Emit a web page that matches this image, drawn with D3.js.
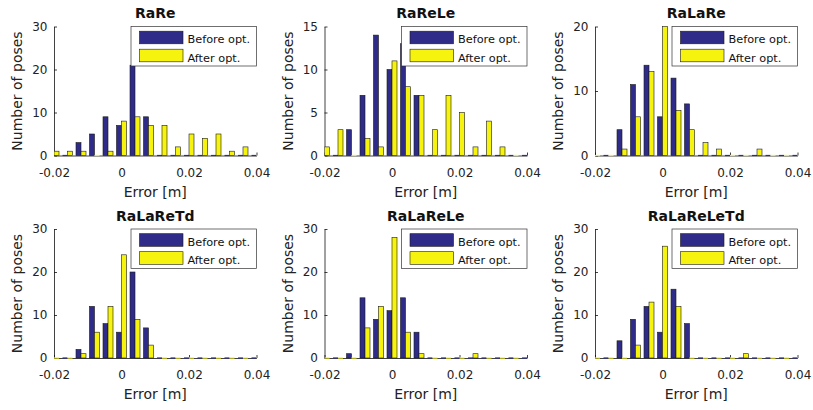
<!DOCTYPE html>
<html>
<head>
<meta charset="utf-8">
<script src="https://cdn.jsdelivr.net/npm/d3@7"></script>
<style>
  html, body { margin: 0; padding: 0; background: #fff; }
  svg { display: block; }
</style>
</head>
<body>
<svg id="chart" width="813" height="410"></svg>
<script>
// Histogram bin centres (m) shared by every panel
const binCenters = [-0.02, -0.016, -0.012, -0.008, -0.004, 0, 0.004, 0.008,
                    0.012, 0.016, 0.02, 0.024, 0.028, 0.032, 0.036, 0.04];

const seriesNames = ["Before opt.", "After opt."];
const xTicks = [-0.02, 0, 0.02, 0.04];
const xTickLabels = ["-0.02", "0", "0.02", "0.04"];

const titles = ["RaRe", "RaReLe", "RaLaRe", "RaLaReTd", "RaLaReLe", "RaLaReLeTd"];

// Pose counts per bin, before and after optimisation
const rareBefore       = [0, 0, 3, 5, 9, 7, 21, 9, 0, 0, 0, 0, 0, 0, 0, 0];
const rareAfter        = [1, 1, 1, 0, 1, 8, 9, 7, 7, 2, 5, 4, 5, 1, 2, 0];
const rareleBefore     = [0, 0, 3, 7, 14, 10, 13, 7, 0, 0, 0, 0, 0, 0, 0, 0];
const rareleAfter      = [1, 3, 0, 2, 1, 11, 8, 7, 3, 7, 5, 1, 4, 1, 0, 0];
const ralareBefore     = [0, 0, 4, 11, 14, 6, 12, 8, 0, 0, 0, 0, 0, 0, 0, 0];
const ralareAfter      = [0, 0, 1, 6, 13, 20, 7, 4, 2, 1, 0, 0, 1, 0, 0, 0];
const ralaretdBefore   = [0, 0, 2, 12, 8, 6, 20, 7, 0, 0, 0, 0, 0, 0, 0, 0];
const ralaretdAfter    = [0, 0, 1, 6, 12, 24, 9, 3, 0, 0, 0, 0, 0, 0, 0, 0];
const ralareleBefore   = [0, 0, 1, 14, 9, 11, 14, 6, 0, 0, 0, 0, 0, 0, 0, 0];
const ralareleAfter    = [0, 0, 0, 7, 12, 28, 6, 1, 0, 0, 0, 1, 0, 0, 0, 0];
const ralareletdBefore = [0, 0, 4, 9, 12, 6, 16, 8, 0, 0, 0, 0, 0, 0, 0, 0];
const ralareletdAfter  = [0, 0, 0, 3, 13, 26, 12, 0, 0, 0, 0, 1, 0, 0, 0, 0];

const beforeSeries = [rareBefore, rareleBefore, ralareBefore, ralaretdBefore, ralareleBefore, ralareletdBefore];
const afterSeries  = [rareAfter, rareleAfter, ralareAfter, ralaretdAfter, ralareleAfter, ralareletdAfter];

const yMax = [30, 15, 20, 30, 30, 30];
const yTicks = [[0, 10, 20, 30], [0, 5, 10, 15], [0, 10, 20], [0, 10, 20, 30], [0, 10, 20, 30], [0, 10, 20, 30]];

// Layout
const colLeft = [54, 324.5, 595];
const rowTop = [26.5, 229];
const plotW = 202.5, plotH = 129;
const colors = ["#2e2c88", "#f6f40f"];
const font = "DejaVu Sans, sans-serif";

const svg = d3.select("#chart");

titles.forEach((title, i) => {
  const col = i % 3, row = Math.floor(i / 3);
  const g = svg.append("g").attr("transform", `translate(${colLeft[col]},${rowTop[row]})`);

  const x = d3.scaleLinear().domain([-0.02, 0.04]).range([0, plotW]);
  const y = d3.scaleLinear().domain([0, yMax[i]]).range([plotH, 0]);

  // width of a group of two bars, and each bar's slot within the group
  const groupW = x(0.004 * 0.74) - x(0);
  const sub = d3.scaleBand().domain([0, 1]).range([-groupW / 2, groupW / 2]);

  // axes: left and bottom only, ticks pointing inward
  const xAxis = d3.axisBottom(x).tickValues(xTicks)
    .tickFormat((d, k) => xTickLabels[k]).tickSizeInner(-3).tickSizeOuter(0).tickPadding(12.5);
  const yAxis = d3.axisLeft(y).tickValues(yTicks[i])
    .tickFormat(d3.format("d")).tickSizeInner(-3).tickSizeOuter(0).tickPadding(6.5);

  const gx = g.append("g").attr("transform", `translate(0,${plotH})`).call(xAxis);
  const gy = g.append("g").call(yAxis);
  [gx, gy].forEach(a => {
    a.attr("font-family", font).attr("font-size", 12);
    a.selectAll("path, line").attr("stroke", "#111").attr("stroke-width", 0.8);
    a.selectAll("text").attr("fill", "#222");
  });

  // bars, clipped to the plotting area
  const clipId = `clip${i}`;
  g.append("clipPath").attr("id", clipId)
    .append("rect").attr("x", 0).attr("y", -2).attr("width", plotW).attr("height", plotH + 3);

  const bars = g.append("g").attr("clip-path", `url(#${clipId})`);
  [beforeSeries[i], afterSeries[i]].forEach((vals, s) => {
    bars.selectAll(`rect.s${s}`)
      .data(vals.map((v, k) => ({ c: binCenters[k], v })))
      .join("rect")
      .attr("class", `s${s}`)
      .attr("x", d => x(d.c) + sub(s))
      .attr("width", sub.bandwidth())
      .attr("y", d => d.v > 0 ? y(d.v) : plotH - 0.6)
      .attr("height", d => d.v > 0 ? plotH - y(d.v) : 1.2)
      .attr("fill", colors[s])
      .attr("stroke", d => d.v > 0 ? "#1a1a1a" : "none")
      .attr("stroke-width", 0.6);
  });

  // title
  g.append("text")
    .attr("x", plotW / 2).attr("y", -8.3)
    .attr("text-anchor", "middle")
    .attr("font-family", font).attr("font-size", 14).attr("font-weight", "bold")
    .attr("fill", "#111")
    .text(title);

  // axis labels
  g.append("text")
    .attr("x", plotW / 2).attr("y", plotH + 41.3)
    .attr("text-anchor", "middle")
    .attr("font-family", font).attr("font-size", 14).attr("fill", "#222")
    .text("Error [m]");
  g.append("text")
    .attr("transform", `translate(${22 - colLeft[0]},${plotH / 2}) rotate(-90)`)
    .attr("text-anchor", "middle")
    .attr("font-family", font).attr("font-size", 14).attr("fill", "#222")
    .text("Number of poses");

  // legend in the upper right corner
  const legW = 125.5, legH = 39.5;
  const leg = g.append("g").attr("transform", `translate(${plotW - legW},0)`);
  leg.append("rect").attr("x", 0).attr("y", 0).attr("width", legW).attr("height", legH)
    .attr("fill", "#fff").attr("stroke", "#333").attr("stroke-width", 0.7);
  seriesNames.forEach((name, s) => {
    leg.append("rect")
      .attr("x", 8.5).attr("y", 4.7 + s * 18).attr("width", 43.5).attr("height", 12.6)
      .attr("fill", colors[s]).attr("stroke", "#1a1a1a").attr("stroke-width", 0.6);
    leg.append("text")
      .attr("x", 56.5).attr("y", 16.8 + s * 18.2)
      .attr("font-family", font).attr("font-size", 11.3).attr("fill", "#111")
      .text(name);
  });
});
</script>
</body>
</html>
